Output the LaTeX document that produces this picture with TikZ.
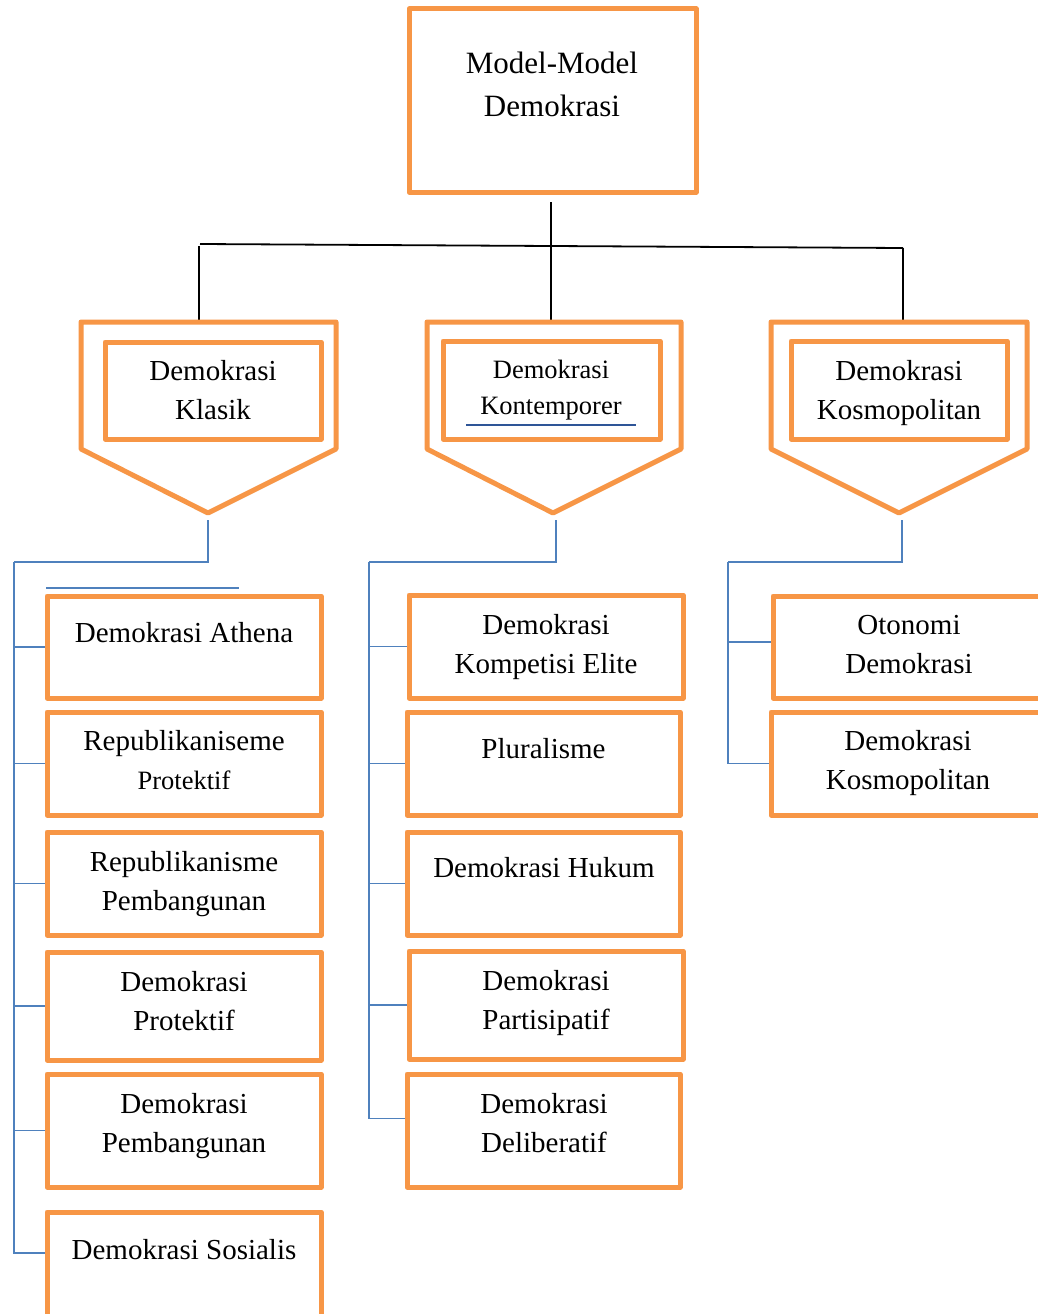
\documentclass[tikz,border=0pt]{standalone}
\usepackage{fontspec}
\setmainfont{Liberation Serif}
\definecolor{orng}{HTML}{F79646}
\definecolor{bluel}{HTML}{4F81BD}
\definecolor{blued}{HTML}{2E5597}
\begin{document}
\begin{tikzpicture}[x=1pt,y=-1pt,
  obox/.style={draw=orng,line width=5pt,rectangle,inner sep=0pt,line join=round},
  txt/.style={align=center,inner sep=0pt,font=\fontsize{29}{39}\selectfont},
  txts/.style={align=center,inner sep=0pt,font=\fontsize{26.5}{36}\selectfont},
  bl/.style={draw=bluel,line width=1.8pt},
  blk/.style={draw=black,line width=1.8pt}]
\clip (0,0) rectangle (1038,1314);
\useasboundingbox (0,0) rectangle (1038,1314);
\fill[white] (0,0) rectangle (1038,1314);

% top box
\node[obox,minimum width=287pt,minimum height=183pt] (top) at (552.5,100.5) {};
\node[txt,font=\fontsize{31}{43}\selectfont] (toptxt) at (552,84.5) {Model-Model\\Demokrasi};

% black connectors
\coordinate (tb) at (551,202);
\coordinate (hl) at (200,244);
\coordinate (hr) at (903,248);
\coordinate (kltop) at (199,322);
\coordinate (kmtop) at (551,322);
\coordinate (kktop) at (903,322);
\draw[blk] (tb) -- (kmtop);
\draw[blk] (hl) -- (hr);
\draw[blk] (199,246) -- (kltop);
\draw[blk] (hr) -- (kktop);

% pentagons
\draw[draw=orng,line width=5pt,line join=round] (81,322) -- (336,322) -- (336,449) -- (208,513) -- (81,449) -- cycle;
\draw[draw=orng,line width=5pt,line join=round] (427,322) -- (681,322) -- (681,449) -- (553,513) -- (427,449) -- cycle;
\draw[draw=orng,line width=5pt,line join=round] (771,322) -- (1027,322) -- (1027,449) -- (899,513) -- (771,449) -- cycle;

\node[obox,minimum width=216pt,minimum height=97pt] (k1) at (213,390.5) {};
\node[txt] (k1t) at (213,390.5) {Demokrasi\\Klasik};
\node[obox,minimum width=217pt,minimum height=98pt] (k2) at (551.5,390) {};
\node[txts] (k2t) at (551,390) {Demokrasi\\Kontemporer};
\draw[draw=blued,line width=2.5pt] (466,425) -- (636,425);
\node[obox,minimum width=216pt,minimum height=98pt] (k3) at (899,390) {};
\node[txt] (k3t) at (899,393) {Demokrasi\\Kosmopolitan};

% left column
\node[obox,minimum width=274pt,minimum height=102pt] (l1) at (184,647) {};
\node[txt] (l1t) at (184,633) {Demokrasi Athena};
\node[obox,minimum width=274pt,minimum height=103pt] (l2) at (184,763.5) {};
\node[txt] (l2t) at (184,760) {Republikaniseme\\{\fontsize{26.5}{36}\selectfont Protektif}};
\node[obox,minimum width=274pt,minimum height=103pt] (l3) at (184,883.5) {};
\node[txt] (l3t) at (184,884) {Republikanisme\\Pembangunan};
\node[obox,minimum width=274pt,minimum height=108pt] (l4) at (184,1006) {};
\node[txt] (l4t) at (184,1001.5) {Demokrasi\\Protektif};
\node[obox,minimum width=274pt,minimum height=113pt] (l5) at (184,1130.5) {};
\node[txt] (l5t) at (184,1126) {Demokrasi\\Pembangunan};
\node[obox,minimum width=274pt,minimum height=130pt] (l6) at (184,1277) {};
\node[txt] (l6t) at (184,1250) {Demokrasi Sosialis};

% middle column
\node[obox,minimum width=274pt,minimum height=103pt] (m1) at (546,646.5) {};
\node[txt] (m1t) at (546,647) {Demokrasi\\Kompetisi Elite};
\node[obox,minimum width=273pt,minimum height=103pt] (m2) at (543.5,763.5) {};
\node[txt] (m2t) at (543.5,749) {Pluralisme};
\node[obox,minimum width=273pt,minimum height=103pt] (m3) at (543.5,883.5) {};
\node[txt] (m3t) at (544,868) {Demokrasi Hukum};
\node[obox,minimum width=274pt,minimum height=108pt] (m4) at (546,1005) {};
\node[txt] (m4t) at (546,1003) {Demokrasi\\Partisipatif};
\node[obox,minimum width=273pt,minimum height=113pt] (m5) at (543.5,1130.5) {};
\node[txt] (m5t) at (544,1123) {Demokrasi\\Deliberatif};

% right column
\node[obox,minimum width=287pt,minimum height=102pt] (r1) at (916.5,647) {};
\node[txt] (r1t) at (909,645) {Otonomi\\Demokrasi};
\node[obox,minimum width=289pt,minimum height=103pt] (r2) at (915.5,763.5) {};
\node[txt] (r2t) at (908,763) {Demokrasi\\Kosmopolitan};

% blue connectors
\coordinate (ltip) at (208,520);
\coordinate (lbus) at (14,562);
\draw[bl] (ltip) |- (lbus);
\draw[bl] (lbus) |- ([yshift=24pt]l6.west);
\foreach \b in {l1,l2,l3,l4,l5} \draw[bl] (lbus) |- (\b.west);
\coordinate (sl1) at (46,588);
\coordinate (sl2) at (239,588);
\draw[bl] (sl1) -- (sl2);

\coordinate (mtip) at (556,520);
\coordinate (mbus) at (369,562);
\draw[bl] (mtip) |- (mbus);
\draw[bl] (mbus) |- ([yshift=12pt]m5.west);
\foreach \b in {m1,m2,m3,m4} \draw[bl] (mbus) |- (\b.west);

\coordinate (rtip) at (902,520);
\coordinate (rbus) at (728,562);
\draw[bl] (rtip) |- (rbus);
\draw[bl] (rbus) |- ([yshift=5pt]r1.west);
\draw[bl] (rbus) |- (r2.west);
\end{tikzpicture}
\end{document}
